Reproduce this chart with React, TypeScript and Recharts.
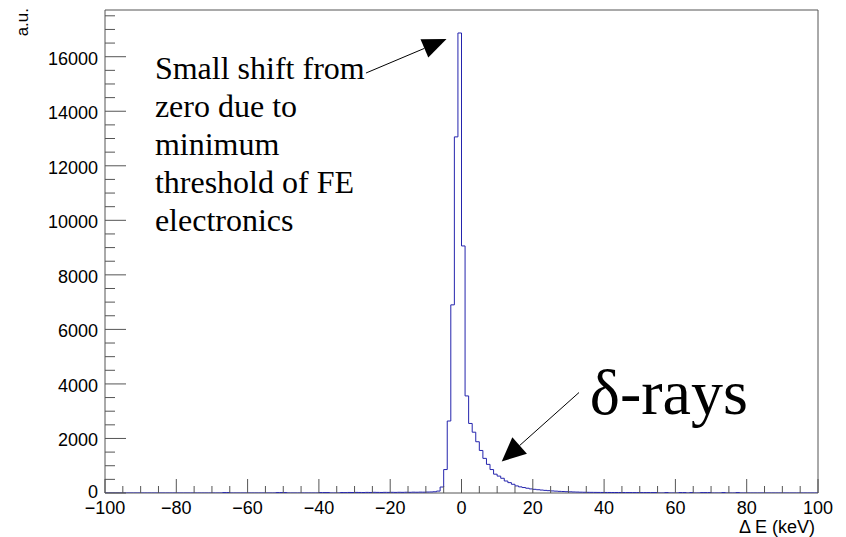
import * as React from "react"
import {
  LineChart,
  Line,
  XAxis,
  YAxis,
  ReferenceArea,
  ReferenceLine,
  ReferenceDot,
} from "recharts"

// histogram: 1 keV bins, counts listed from the bin starting at -100 keV
const BIN_START = -100
const BIN_WIDTH = 1
const COUNTS = [
  // -100 .. -81
  0, 0, 0, 0, 0, 0, 0, 0, 0, 0, 0, 0, 0, 0, 0, 0, 0, 0, 0, 0,
  // -80 .. -61
  0, 0, 0, 0, 0, 0, 0, 0, 0, 0, 0, 0, 0, 15, 15, 0, 0, 0, 0, 0,
  // -60 .. -41
  0, 0, 0, 0, 0, 0, 0, 0, 15, 15, 15, 0, 0, 0, 0, 0, 0, 0, 0, 0,
  // -40 .. -21
  15, 15, 15, 0, 0, 0, 18, 15, 20, 18, 22, 20, 18, 22, 20, 25, 22, 20, 24, 22,
  // -20 .. -1
  25, 22, 26, 24, 28, 25, 30, 28, 32, 30, 35, 38, 45, 70, 220, 860, 2640, 6900, 13060, 16870,
  // 0 .. 19
  9060, 3560, 2550, 2230, 1880, 1560, 1270, 1050, 860, 690, 620, 540, 440, 380, 320, 260, 225, 200, 175, 150,
  // 20 .. 39
  135, 120, 108, 96, 86, 76, 68, 60, 54, 48, 43, 38, 34, 30, 27, 25, 24, 22, 21, 20,
  // 40 .. 59
  20, 19, 18, 18, 17, 17, 16, 16, 15, 15, 15, 15, 15, 15, 15, 0, 0, 15, 0, 0,
  // 60 .. 79
  0, 15, 15, 0, 15, 0, 0, 15, 15, 15, 0, 0, 0, 15, 0, 0, 0, 15, 0, 0,
  // 80 .. 99
  0, 0, 0, 0, 0, 0, 0, 0, 0, 0, 0, 0, 0, 0, 0, 0, 0, 0, 0, 0,
]

const X_MAJOR = [-100, -80, -60, -40, -20, 0, 20, 40, 60, 80, 100]
const X_MINOR_STEP = 5
const Y_MAJOR = [0, 2000, 4000, 6000, 8000, 10000, 12000, 14000, 16000]
const Y_MINOR_STEP = 500
const Y_TOP = 17713

const NOTE_LINES = ["Small shift from", "zero due to", "minimum", "threshold of FE", "electronics"]
const NOTE_POS = { x: -86, y: 15181 }
const DELTA_TEXT = "δ-rays"
const DELTA_POS = { x: 36, y: 2897 }
const ARROW_PEAK = [{ x: -26.8, y: 15401 }, { x: -4.2, y: 16648 }]
const ARROW_DELTA = [{ x: 32.96, y: 3685 }, { x: 11.28, y: 1155 }]

// layout
const W = 846
const H = 537
const PLOT_LEFT = 105
const PLOT_RIGHT = 818
const PLOT_TOP = 10
const PLOT_BOTTOM = 493
const AXIS = "#555"
const LINE = "#2424ad"
const SANS = "'Liberation Sans', Arial, Helvetica, sans-serif"
const SERIF = "'Liberation Serif', 'Times New Roman', serif"

const data = COUNTS.map((c, i) => ({ x: BIN_START + i * BIN_WIDTH, count: c }))
data.push({ x: BIN_START + COUNTS.length * BIN_WIDTH, count: COUNTS[COUNTS.length - 1] })

const xTicks: number[] = []
for (let v = X_MAJOR[0]; v <= X_MAJOR[X_MAJOR.length - 1]; v += X_MINOR_STEP) xTicks.push(v)
const yTicks: number[] = []
for (let v = 0; v <= Y_TOP; v += Y_MINOR_STEP) yTicks.push(v)

const fmt = (v: number) => (v < 0 ? "\u2212" + Math.abs(v) : String(v))

function XTick({ x, payload }: any) {
  const v = payload.value
  const major = X_MAJOR.includes(v)
  return (
    <g>
      <line x1={x} x2={x} y1={PLOT_BOTTOM} y2={PLOT_BOTTOM - (major ? 14 : 7)} stroke={AXIS} />
      {major && (
        <text x={x} y={514} textAnchor="middle" fontFamily={SANS} fontSize={18} fill="#000">
          {fmt(v)}
        </text>
      )}
    </g>
  )
}

function YTick({ y, payload }: any) {
  const v = payload.value
  const major = Y_MAJOR.includes(v)
  return (
    <g>
      <line x1={PLOT_LEFT} x2={PLOT_LEFT + (major ? 21 : 10)} y1={y} y2={y} stroke={AXIS} />
      {major && (
        <text
          x={98}
          y={y + (v === 0 ? 5 : 8)}
          textAnchor="end"
          fontFamily={SANS}
          fontSize={18}
          fill="#000"
        >
          {fmt(v)}
        </text>
      )}
    </g>
  )
}

function arrowShape(headLen: number, halfW: number) {
  return (props: any) => {
    const { x1, y1, x2, y2 } = props
    const dx = x2 - x1
    const dy = y2 - y1
    const len = Math.sqrt(dx * dx + dy * dy)
    const ux = dx / len
    const uy = dy / len
    const bx = x2 - ux * headLen
    const by = y2 - uy * headLen
    const pts = [
      [x2, y2],
      [bx - uy * halfW, by + ux * halfW],
      [bx + uy * halfW, by - ux * halfW],
    ]
    return (
      <g>
        <line x1={x1} y1={y1} x2={bx} y2={by} stroke="#000" strokeWidth={1} />
        <polygon points={pts.map((p) => p.join(",")).join(" ")} fill="#000" />
      </g>
    )
  }
}

export default function App() {
  return (
    <div style={{ width: W, height: H, background: "#fff" }}>
      <style>{"body{margin:0}"}</style>
      <LineChart
        width={W}
        height={H}
        data={data}
        margin={{ top: PLOT_TOP, right: W - PLOT_RIGHT, bottom: 0, left: 0 }}
      >
        <XAxis
          dataKey="x"
          type="number"
          domain={[X_MAJOR[0], X_MAJOR[X_MAJOR.length - 1]]}
          ticks={xTicks}
          interval={0}
          tick={<XTick />}
          tickLine={false}
          axisLine={false}
          height={H - PLOT_BOTTOM}
          allowDataOverflow
        />
        <YAxis
          type="number"
          domain={[0, Y_TOP]}
          ticks={yTicks}
          interval={0}
          tick={<YTick />}
          tickLine={false}
          axisLine={false}
          width={PLOT_LEFT}
          allowDataOverflow
        />
        <ReferenceArea
          x1={X_MAJOR[0]}
          x2={X_MAJOR[X_MAJOR.length - 1]}
          y1={0}
          y2={Y_TOP}
          fill="none"
          stroke={AXIS}
          strokeWidth={1}
          ifOverflow="visible"
        />
        <Line
          dataKey="count"
          type="stepAfter"
          stroke={LINE}
          strokeWidth={1}
          dot={false}
          activeDot={false}
          isAnimationActive={false}
        />
        <ReferenceLine segment={ARROW_PEAK} shape={arrowShape(24, 10)} ifOverflow="visible" />
        <ReferenceLine segment={ARROW_DELTA} shape={arrowShape(24, 11)} ifOverflow="visible" />
        <ReferenceDot
          x={NOTE_POS.x}
          y={NOTE_POS.y}
          ifOverflow="visible"
          shape={(p: any) => (
            <text x={p.cx} y={p.cy} fontFamily={SERIF} fontSize={32} fill="#000">
              {NOTE_LINES.map((t, i) => (
                <tspan key={t} x={p.cx} dy={i === 0 ? 0 : 38}>
                  {t}
                </tspan>
              ))}
            </text>
          )}
        />
        <ReferenceDot
          x={DELTA_POS.x}
          y={DELTA_POS.y}
          ifOverflow="visible"
          shape={(p: any) => (
            <text x={p.cx} y={p.cy} fontFamily={SERIF} fontSize={64} fill="#000">
              {DELTA_TEXT}
            </text>
          )}
        />
        <text x={0} y={0} transform="translate(28, 8) rotate(-90)" textAnchor="end" fontFamily={SANS} fontSize={17}>
          a.u.
        </text>
        <text x={815} y={533} textAnchor="end" fontFamily={SANS} fontSize={18}>
          Δ E (keV)
        </text>
      </LineChart>
    </div>
  )
}
